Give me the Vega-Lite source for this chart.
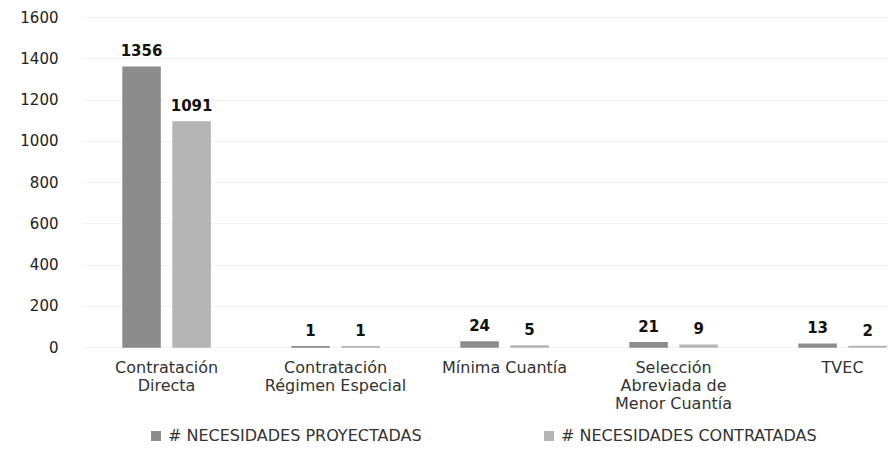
{
  "$schema": "https://vega.github.io/schema/vega-lite/v6.json",
  "width": 806,
  "height": 330,
  "autosize": "none",
  "padding": {"left": 82, "top": 17, "right": 0, "bottom": 102},
  "background": "white",
  "config": {"view": {"stroke": null}, "font": "DejaVu Sans"},
  "data": {
    "values": [
      {"categoria": "Contratación Directa", "serie": "# NECESIDADES PROYECTADAS", "valor": 1356},
      {"categoria": "Contratación Directa", "serie": "# NECESIDADES CONTRATADAS", "valor": 1091},
      {"categoria": "Contratación Régimen Especial", "serie": "# NECESIDADES PROYECTADAS", "valor": 1},
      {"categoria": "Contratación Régimen Especial", "serie": "# NECESIDADES CONTRATADAS", "valor": 1},
      {"categoria": "Mínima Cuantía", "serie": "# NECESIDADES PROYECTADAS", "valor": 24},
      {"categoria": "Mínima Cuantía", "serie": "# NECESIDADES CONTRATADAS", "valor": 5},
      {"categoria": "Selección Abreviada de Menor Cuantía", "serie": "# NECESIDADES PROYECTADAS", "valor": 21},
      {"categoria": "Selección Abreviada de Menor Cuantía", "serie": "# NECESIDADES CONTRATADAS", "valor": 9},
      {"categoria": "TVEC", "serie": "# NECESIDADES PROYECTADAS", "valor": 13},
      {"categoria": "TVEC", "serie": "# NECESIDADES CONTRATADAS", "valor": 2}
    ]
  },
  "encoding": {
    "x": {
      "field": "categoria",
      "type": "nominal",
      "sort": ["Contratación Directa", "Contratación Régimen Especial", "Mínima Cuantía", "Selección Abreviada de Menor Cuantía", "TVEC"],
      "scale": {"paddingInner": 0.485, "paddingOuter": 0.127, "align": 0.956},
      "axis": {
        "title": null,
        "labelAngle": 0,
        "domain": false,
        "ticks": false,
        "labelPadding": 12,
        "labelFontSize": 16,
        "labelColor": "#333333",
        "labelLineHeight": 18,
        "labelLimit": 300,
        "labelExpr": "datum.label == 'Contratación Directa' ? ['Contratación', 'Directa'] : datum.label == 'Contratación Régimen Especial' ? ['Contratación', 'Régimen Especial'] : datum.label == 'Selección Abreviada de Menor Cuantía' ? ['Selección', 'Abreviada de', 'Menor Cuantía'] : datum.label"
      }
    },
    "xOffset": {
      "field": "serie",
      "type": "nominal",
      "sort": ["# NECESIDADES PROYECTADAS", "# NECESIDADES CONTRATADAS"],
      "scale": {"paddingInner": 0.26}
    },
    "y": {
      "field": "valor",
      "type": "quantitative",
      "scale": {"domain": [0, 1600]},
      "axis": {
        "title": null,
        "values": [0, 200, 400, 600, 800, 1000, 1200, 1400, 1600],
        "format": "d",
        "domain": false,
        "ticks": false,
        "labelPadding": 24,
        "labelFontSize": 15,
        "labelColor": "#222222",
        "gridColor": "#f3f3f3"
      }
    }
  },
  "layer": [
    {
      "mark": {"type": "bar", "strokeWidth": 1.5},
      "encoding": {
        "stroke": {
          "field": "serie",
          "type": "nominal",
          "scale": {"domain": ["# NECESIDADES PROYECTADAS", "# NECESIDADES CONTRATADAS"], "range": ["#8c8c8c", "#b4b4b4"]},
          "legend": null
        },
        "color": {
          "field": "serie",
          "type": "nominal",
          "sort": ["# NECESIDADES PROYECTADAS", "# NECESIDADES CONTRATADAS"],
          "scale": {"domain": ["# NECESIDADES PROYECTADAS", "# NECESIDADES CONTRATADAS"], "range": ["#8c8c8c", "#b4b4b4"]},
          "legend": {
            "title": null,
            "orient": "none",
            "direction": "horizontal",
            "legendX": 66,
            "legendY": 411,
            "symbolType": "square",
            "symbolSize": 100,
            "symbolStrokeWidth": 0,
            "labelFontSize": 16,
            "labelColor": "#333333",
            "labelLimit": 400,
            "columnPadding": 119,
            "labelOffset": 4
          }
        }
      }
    },
    {
      "mark": {"type": "text", "dy": -16, "fontWeight": "bold", "fontSize": 15, "color": "#111111"},
      "encoding": {
        "text": {"field": "valor", "type": "quantitative"}
      }
    }
  ]
}
